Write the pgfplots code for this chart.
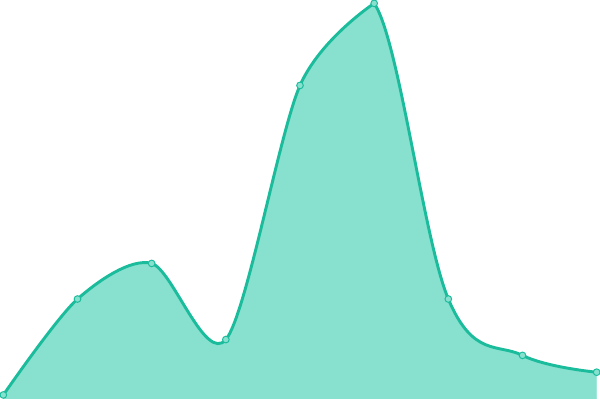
\documentclass[border=0pt]{standalone}
\usepackage{pgfplots}
\usepgfplotslibrary{fillbetween}
\pgfplotsset{compat=1.18}
\definecolor{lineC}{RGB}{26,188,156}
\definecolor{fillC}{RGB}{136,224,207}
\begin{document}
\begin{tikzpicture}
\begin{axis}[
  width=15cm, height=10cm, scale only axis,
  axis lines=none,
  xmin=0, xmax=8, ymin=0, ymax=400,
  clip=true,
]
% left part ends at the peak; right part keeps the peak's tangent
\addplot[name path=L, draw=none, smooth, tension=0.5]
  coordinates {(0,4) (1,101) (2,137) (3,60) (4,317) (5,400)};
\addplot[name path=R, draw=none, smooth, tension=0.6]
  coordinates {(4,317) (5,400) (6,101) (7,44) (8,27)};
\addplot[name path=B, draw=none] coordinates {(0,0) (5,0)};
\addplot[name path=V, draw=none] coordinates {(5,-50) (5,500)};
\addplot[fillC, draw=fillC, line width=0.5pt] fill between[of=L and B];
\fill[fillC, draw=fillC, line width=0.5pt,
  intersection segments={of=R and V, sequence=L2}]
  -- (axis cs:8,0) -- (axis cs:5,0) -- cycle;
\addplot[draw=lineC, line width=2.1pt, smooth, tension=0.5]
  coordinates {(0,4) (1,101) (2,137) (3,60) (4,317) (5,400)};
\draw[lineC, line width=2.1pt, intersection segments={of=R and V, sequence=L2}];
\addplot[only marks, mark=*, mark size=2.4pt,
  mark options={fill=fillC, draw=lineC, line width=0.7pt}]
  coordinates {(0,4) (1,101) (2,137) (3,60) (4,317) (5,400) (6,101) (7,44) (8,27)};
\end{axis}
\end{tikzpicture}
\end{document}
